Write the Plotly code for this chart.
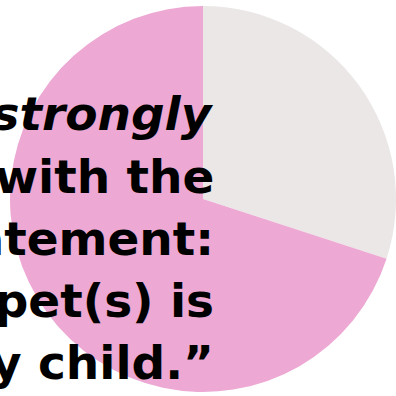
import plotly.graph_objects as go

labels = ["Other", "Strongly agree"]
values = [30, 70]
colors = ["#EBE7E7", "#EDA8D3"]
text_lines = ["who <i>strongly</i>", "agree with the", "statement:", "“My pet(s) is", "my child.”"]

fig = go.Figure()
fig.add_trace(go.Pie(
    labels=labels, values=values, sort=False, direction="clockwise", rotation=0,
    marker=dict(colors=colors, line=dict(width=0)),
    textinfo="none", hoverinfo="label+percent", showlegend=False,
    domain=dict(x=[10/396, 1], y=[3/396, 391/396]),
))
first_mid, step = 114, 62
for i, line in enumerate(text_lines):
    fig.add_annotation(
        text=line, xref="paper", yref="paper",
        x=216/396, y=1 - (first_mid + i * step)/396, xanchor="right", yanchor="middle", align="right",
        showarrow=False,
        font=dict(family="DejaVu Sans", size=47, color="#000000", weight="bold"),
    )
fig.update_layout(
    width=396, height=396, margin=dict(l=0, r=0, t=0, b=0),
    paper_bgcolor="white", plot_bgcolor="white",
)
fig.write_html("out.html", config={"displayModeBar": False},
               post_script="document.body.style.margin='0';")
